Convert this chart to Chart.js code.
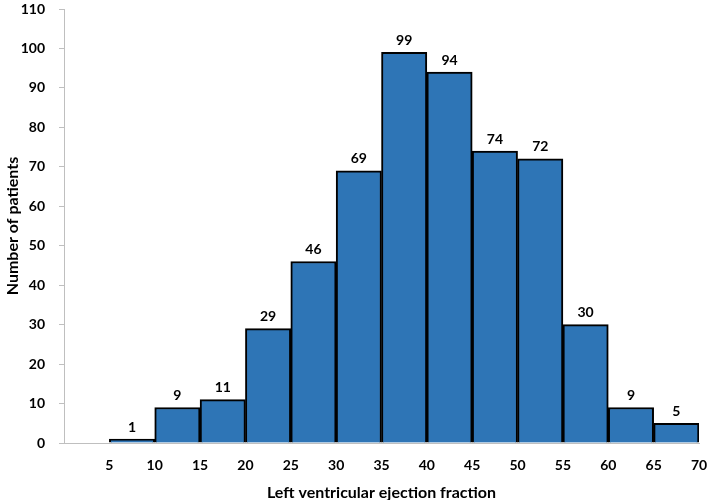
<!DOCTYPE html>
<html>
<head>
<meta charset="utf-8">
<script src="https://cdn.jsdelivr.net/npm/chart.js@4"></script>
<style>
  html, body { margin: 0; padding: 0; background: #fff; }
  #wrap { width: 709px; height: 500px; }
</style>
</head>
<body>
<div id="wrap"><canvas id="chart" width="709" height="500"></canvas></div>
<script>
'use strict';

// bin starts (5-wide bins from 5 to 70) and patient counts
const binStarts = [5, 10, 15, 20, 25, 30, 35, 40, 45, 50, 55, 60, 65];
const patientCounts = [1, 9, 11, 29, 46, 69, 99, 94, 74, 72, 30, 9, 5];
const xTickLabels = [5, 10, 15, 20, 25, 30, 35, 40, 45, 50, 55, 60, 65, 70];

const FONT = 'Lato, "Open Sans", sans-serif';

const points = [];
for (let i = 0; i < binStarts.length; i++) {
  points.push({ x: binStarts[i] + 2.5, y: patientCounts[i] });
}

// writes the count above each bar
const valueLabels = {
  id: 'valueLabels',
  afterDatasetsDraw(chart) {
    const ctx = chart.ctx;
    const meta = chart.getDatasetMeta(0);
    ctx.save();
    ctx.font = 'bold 14px ' + FONT;
    ctx.fillStyle = '#000';
    ctx.textAlign = 'center';
    ctx.textBaseline = 'bottom';
    meta.data.forEach((bar, i) => {
      ctx.fillText(patientCounts[i], bar.x, bar.y - 5);
    });
    ctx.restore();
  }
};

const config = {
  type: 'bar',
  data: {
    datasets: [{
      data: points,
      backgroundColor: '#2E75B6',
      borderColor: '#000000',
      borderWidth: 2,
      borderSkipped: 'bottom',
      barPercentage: 1,
      categoryPercentage: 1
    }]
  },
  options: {
    responsive: false,
    animation: false,
    layout: { padding: { top: 0, right: 10, bottom: -2, left: 0 } },
    plugins: {
      legend: { display: false },
      tooltip: { enabled: false }
    },
    scales: {
      x: {
        type: 'linear',
        offset: false,
        min: 0,
        max: 70,
        afterBuildTicks(scale) {
          scale.ticks = [0].concat(xTickLabels).map(v => ({ value: v }));
        },
        afterFit(scale) {
          scale.paddingLeft = 0;
          scale.paddingRight = 0;
        },
        ticks: {
          callback: v => (xTickLabels.includes(v) ? String(v) : ''),
          color: '#000',
          font: { family: FONT, size: 14, weight: 'bold' },
          maxRotation: 0,
          autoSkip: false,
          padding: 6
        },
        grid: { display: false },
        border: { color: '#bfbfbf', width: 1 },
        title: {
          display: true,
          text: 'Left ventricular ejection fraction',
          color: '#000',
          font: { family: FONT, size: 16, weight: 'bold' },
          padding: { top: 3, bottom: 0 }
        }
      },
      y: {
        min: 0,
        max: 110,
        afterFit(scale) {
          scale.width = 64;
          scale.paddingTop = 9;
          scale.paddingBottom = 9;
        },
        ticks: {
          stepSize: 10,
          color: '#000',
          font: { family: FONT, size: 14, weight: 'bold' },
          padding: 14
        },
        grid: {
          drawOnChartArea: false,
          drawTicks: true,
          tickLength: 5,
          color: '#bfbfbf'
        },
        border: { color: '#bfbfbf', width: 1 },
        title: {
          display: true,
          text: 'Number of patients',
          color: '#000',
          font: { family: FONT, size: 16, weight: 'bold' },
          padding: { top: 3, bottom: 1 }
        }
      }
    }
  },
  plugins: [valueLabels]
};

new Chart(document.getElementById('chart'), config);
</script>
</body>
</html>
